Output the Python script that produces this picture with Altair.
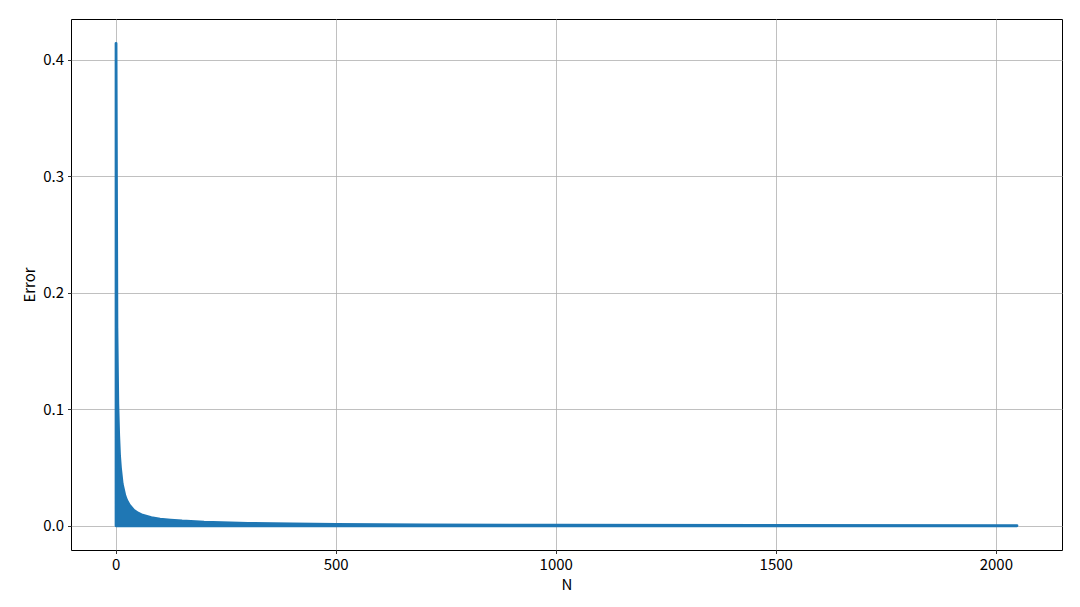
import altair as alt
import pandas as pd

# Upper envelope of the error band (peak error values)
n_values = [1, 3, 5, 7, 9, 11, 15, 21, 25, 31, 41, 51, 61, 81, 101, 125, 151,
            201, 301, 401, 501, 701, 1001, 1501, 2048]
error_peaks = [0.414, 0.170, 0.105, 0.078, 0.060, 0.050, 0.036, 0.026, 0.022,
               0.018, 0.0135, 0.011, 0.0092, 0.0070, 0.0057, 0.0050, 0.0042,
               0.0032, 0.0022, 0.0017, 0.0013, 0.0009, 0.0006, 0.0004, 0.0003]
x_ticks = [0, 500, 1000, 1500, 2000]
y_ticks = [0.0, 0.1, 0.2, 0.3, 0.4]

df = pd.DataFrame({"N": n_values, "Error": error_peaks})

FONT = "Noto Sans CJK SC"
BLUE = "#1f77b4"

chart = (
    alt.Chart(df)
    .mark_area(color=BLUE, stroke=BLUE, strokeWidth=2.8, strokeJoin="round",
               opacity=1, clip=True)
    .encode(
        x=alt.X("N:Q",
                scale=alt.Scale(domain=[-101.35, 2150.35], nice=False, zero=False),
                axis=alt.Axis(values=x_ticks, format="d", title="N")),
        y=alt.Y("Error:Q",
                scale=alt.Scale(domain=[-0.0207, 0.4349], nice=False, zero=False),
                axis=alt.Axis(values=y_ticks, format=".1f", title="Error")),
        y2=alt.datum(0),
    )
    .properties(
        width=991,
        height=531,
        autosize=alt.AutoSizeParams(type="none"),
        padding={"left": 63, "top": 11, "right": 10, "bottom": 52},
    )
    .configure_view(stroke="black", strokeWidth=1)
    .configure_axis(
        domain=False,
        grid=True,
        gridColor="#b0b0b0",
        gridWidth=0.8,
        ticks=True,
        tickColor="black",
        tickSize=3.5,
        tickWidth=0.8,
        labelFont=FONT,
        labelFontSize=15,
        labelColor="black",
        labelPadding=4,
        titleFont=FONT,
        titleFontSize=15,
        titleFontWeight="normal",
        titleColor="black",
        titlePadding=5,
    )
)

chart.save("out.html", embed_options={"renderer": "svg", "actions": False})
